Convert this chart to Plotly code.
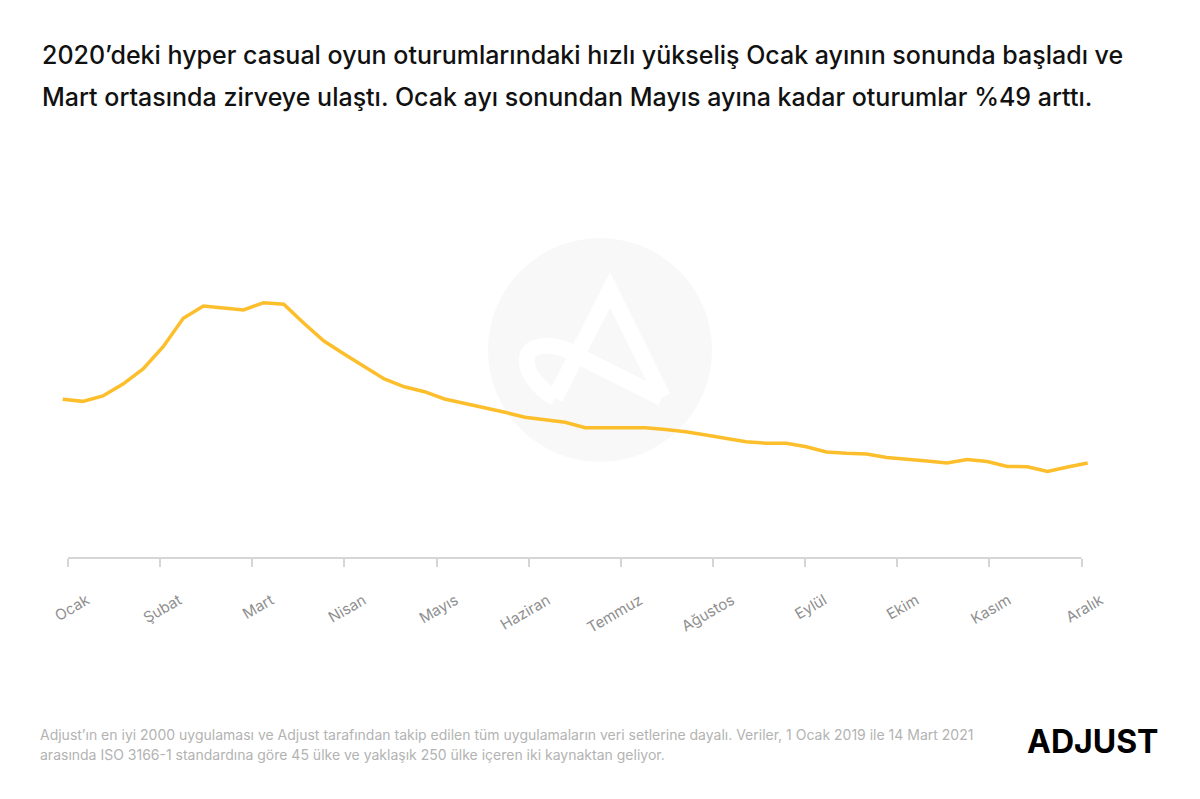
import plotly.graph_objects as go

# weekly hyper casual session index, 2020 (week 1 = 100)
weeks = list(range(1, 53))
sessions = [
	100.0, 98.7, 102.1, 109.6, 119.1, 133.1, 151.0, 158.8, 157.5, 156.3,
	160.9, 159.9, 147.9, 136.7, 128.5, 120.5, 112.8, 107.9, 104.8, 100.2,
	97.5, 94.3, 91.8, 88.7, 87.0, 85.5, 82.1, 82.1, 82.1, 82.1,
	81.0, 79.6, 77.5, 75.3, 73.3, 72.3, 72.3, 70.1, 66.8, 66.0,
	65.5, 63.3, 62.4, 61.1, 59.9, 62.1, 60.8, 57.7, 57.5, 54.5,
	57.3, 59.9,
]
months = ['Ocak', 'Şubat', 'Mart', 'Nisan', 'Mayıs', 'Haziran', 'Temmuz',
	'Ağustos', 'Eylül', 'Ekim', 'Kasım', 'Aralık']

title_lines = [
	'2020’deki hyper casual oyun oturumlarındaki hızlı yükseliş Ocak ayının sonunda başladı ve',
	'Mart ortasında zirveye ulaştı. Ocak ayı sonundan Mayıs ayına kadar oturumlar %49 arttı.',
]
source_lines = [
	'Adjust’ın en iyi 2000 uygulaması ve Adjust tarafından takip edilen tüm uygulamaların veri setlerine dayalı. Veriler, 1 Ocak 2019 ile 14 Mart 2021',
	'arasında ISO 3166-1 standardına göre 45 ülke ve yaklaşık 250 ülke içeren iki kaynaktan geliyor.',
]

# page has an 8px body margin, so the figure is drawn a bit smaller
OFF = 8
W, H = 1200 - OFF, 799 - OFF
PLOT_L, PLOT_R, PLOT_T, PLOT_B = 40, 1160, 200, 558  # page pixels
M_L, M_R = PLOT_L - OFF, W - (PLOT_R - OFF)
M_T, M_B = PLOT_T - OFF, H - (PLOT_B - OFF)
plot_h = PLOT_B - PLOT_T

def ypap(px):  # page pixel row -> paper y
	return (PLOT_B - px) / plot_h

def xpap(px):
	return (px - PLOT_L) / (PLOT_R - PLOT_L)

tick_start, tick_step = 1.26, 4.585
tickvals = [tick_start + i * tick_step for i in range(len(months))]

FONT = 'Inter'

fig = go.Figure()
fig.add_trace(go.Scatter(
	x = weeks, y = sessions, mode = 'lines',
	line = dict(color = '#FDBE2C', width = 3.5),
	hoverinfo = 'skip', showlegend = False,
))

# watermark logo
fig.add_shape(type = 'circle', xref = 'paper', yref = 'paper',
	xsizemode = 'pixel', ysizemode = 'pixel', xanchor = xpap(600), yanchor = ypap(350),
	x0 = -112, x1 = 112, y0 = -112, y1 = 112,
	fillcolor = '#f8f8f8', line_width = 0, layer = 'below')
fig.add_shape(type = 'path', xref = 'paper', yref = 'paper',
	xsizemode = 'pixel', ysizemode = 'pixel', xanchor = xpap(600), yanchor = ypap(350),
	path = 'M 63,-47 L 10,60 L -45,-48 M 62,-48 L -20,-7 C -43,8 -72,8 -73,-8 C -75,-22 -62,-38 -45,-48',
	line = dict(color = 'white', width = 16), layer = 'below')

# axis baseline between first and last month tick
fig.add_shape(type = 'line', xref = 'x', yref = 'paper',
	x0 = tickvals[0], x1 = tickvals[-1], y0 = 0, y1 = 0,
	line = dict(color = '#d6d6d6', width = 2))

for i, line in enumerate(title_lines):
	fig.add_annotation(text = line, xref = 'paper', yref = 'paper',
		x = xpap(40), y = ypap(55 + 42 * i), xanchor = 'left', yanchor = 'middle',
		showarrow = False, font = dict(family = FONT, size = 25, color = '#111111', weight = 500))

for i, line in enumerate(source_lines):
	fig.add_annotation(text = line, xref = 'paper', yref = 'paper',
		x = xpap(38), y = ypap(734 + 20 * i), xanchor = 'left', yanchor = 'middle',
		showarrow = False, font = dict(family = FONT, size = 14, color = '#b3b3b3'))

fig.add_annotation(text = 'ADJUST', xref = 'paper', yref = 'paper',
	x = xpap(1160), y = ypap(741), xanchor = 'right', yanchor = 'middle',
	showarrow = False, font = dict(family = FONT, size = 32, color = '#000000', weight = 700))

fig.update_layout(
	width = W, height = H,
	margin = dict(l = M_L, r = M_R, t = M_T, b = M_B),
	paper_bgcolor = 'white', plot_bgcolor = 'rgba(0,0,0,0)',
	font = dict(family = FONT),
	xaxis = dict(
		range = [1 - 22.7 / 20.1, 52 + 72.3 / 20.1],
		tickmode = 'array', tickvals = tickvals, ticktext = months,
		tickangle = -30, ticks = 'outside', ticklen = 8, tickwidth = 1.5, tickcolor = '#d6d6d6',
		tickfont = dict(family = FONT, size = 15, color = '#8f8f8f'),
		ticklabelshift = 19, ticklabelstandoff = 19,
		showgrid = False, zeroline = False, showline = False,
	),
	yaxis = dict(
		range = [0, plot_h * 100 / 158.7],
		visible = False, showgrid = False, zeroline = False,
	),
)

fig.write_html('out.html')
